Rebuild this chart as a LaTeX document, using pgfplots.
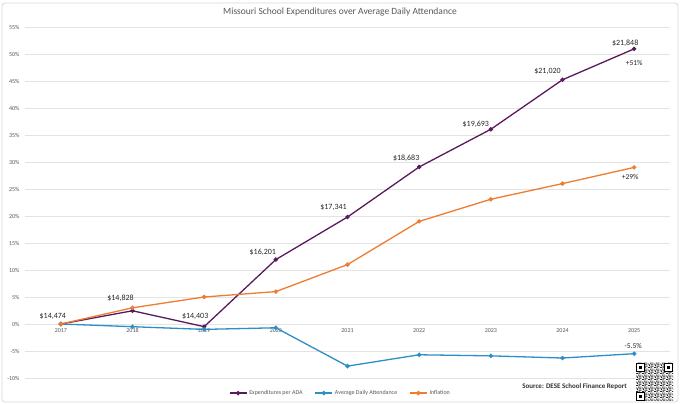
\documentclass[border=0pt]{standalone}
\usepackage{pgfplots}
\pgfplotsset{compat=1.18}
\usepackage{pgfplotstable}
\usepackage{fontspec}
\setmainfont{Carlito}
\usetikzlibrary{patterns}
\definecolor{expc}{HTML}{5A1A5E}
\definecolor{adac}{HTML}{2E8FC4}
\definecolor{infc}{HTML}{ED7D31}
\definecolor{txtgray}{HTML}{595959}
\definecolor{gridgray}{HTML}{E3E3E3}

\pgfdeclarepatternformonly{qrtex}{\pgfpointorigin}{\pgfpoint{6pt}{6pt}}{\pgfpoint{6pt}{6pt}}{
  \pgfpathrectangle{\pgfpoint{0pt}{0pt}}{\pgfpoint{2pt}{1pt}}
  \pgfpathrectangle{\pgfpoint{3pt}{0pt}}{\pgfpoint{1pt}{2pt}}
  \pgfpathrectangle{\pgfpoint{5pt}{1pt}}{\pgfpoint{1pt}{1pt}}
  \pgfpathrectangle{\pgfpoint{1pt}{2pt}}{\pgfpoint{1pt}{2pt}}
  \pgfpathrectangle{\pgfpoint{4pt}{3pt}}{\pgfpoint{2pt}{1pt}}
  \pgfpathrectangle{\pgfpoint{0pt}{4pt}}{\pgfpoint{1pt}{1pt}}
  \pgfpathrectangle{\pgfpoint{2pt}{5pt}}{\pgfpoint{2pt}{1pt}}
  \pgfpathrectangle{\pgfpoint{3pt}{3pt}}{\pgfpoint{1pt}{1pt}}
  \pgfpathrectangle{\pgfpoint{5pt}{5pt}}{\pgfpoint{1pt}{1pt}}
  \pgfusepath{fill}
}

\pgfplotstableread{
x y label dx dy
0 0 \$14,474 -8 8
1 2.45 \$14,828 -12 12
2 -0.49 \$14,403 -9 10
3 11.93 \$16,201 -13 7
4 19.81 \$17,341 -14 10
5 29.08 \$18,683 -13 9
6 36.06 \$19,693 -15 5
7 45.23 \$21,020 -15 8
8 50.95 \$21,848 -9 6
}\exptable

\pgfplotstableread{
x y
0 0
1 -0.5
2 -1.0
3 -0.7
4 -7.8
5 -5.7
6 -5.9
7 -6.3
8 -5.5
}\adatable

\pgfplotstableread{
x y
0 0
1 3.0
2 5.0
3 6.0
4 11.0
5 19.0
6 23.1
7 26.0
8 29.0
}\inftable

\begin{document}
\begin{tikzpicture}
\useasboundingbox (0,0) rectangle (680pt,404pt);
\fill[white] (0,0) rectangle (680pt,404pt);
\draw[black!15, rounded corners=3pt, line width=0.8pt] (2pt,2pt) rectangle (678pt,401pt);
\node[font=\fontsize{9.5}{11}\selectfont, text=txtgray] at (340pt,392pt) {Missouri School Expenditures over Average Daily Attendance};
\begin{axis}[
  at={(25pt,26pt)}, anchor=south west,
  scale only axis, width=645pt, height=351pt,
  xmin=-0.5, xmax=8.5, ymin=-10, ymax=55,
  axis x line*=middle, axis y line*=left,
  x axis line style={draw=gridgray, line width=0.6pt, -},
  y axis line style={draw=none},
  ytick={-10,-5,...,55},
  xtick={0,1,2,3,4,5,6,7,8},
  xticklabels={2017,2018,2019,2020,2021,2022,2023,2024,2025},
  major tick length=0pt,
  ymajorgrids, grid style={draw=gridgray, line width=0.6pt},
  /pgf/number format/assume math mode=true,
  yticklabel={\pgfmathprintnumber{\tick}\%},
  yticklabel style={font=\fontsize{6}{7}\selectfont, text=txtgray, xshift=-2pt},
  xticklabel style={font=\fontsize{6}{7}\selectfont, text=txtgray, yshift=-1pt},
  legend columns=3,
  legend style={at={(axis description cs:0.489,-0.043)}, anchor=center, draw=none, fill=none,
    font=\fontsize{6}{7}\selectfont, text=txtgray,
    /tikz/every even column/.append style={column sep=10pt}},
  legend cell align=left,
]
\addplot[expc, line width=1.3pt, mark=*, mark size=1.5pt,
  visualization depends on={\thisrow{dx} \as \dx},
  visualization depends on={\thisrow{dy} \as \dy},
  nodes near coords, point meta=explicit symbolic,
  nodes near coords style={anchor=center, xshift=\dx pt, yshift=\dy pt,
    font=\fontsize{8}{9}\selectfont, text=black!85}]
  table[x=x, y=y, meta=label] {\exptable};
\addlegendentry{Expenditures per ADA}
\addplot[adac, line width=1.3pt, mark=*, mark size=1.5pt] table[x=x, y=y] {\adatable};
\addlegendentry{Average Daily Attendance}
\addplot[infc, line width=1.3pt, mark=*, mark size=1.5pt] table[x=x, y=y] {\inftable};
\addlegendentry{Inflation}
\addplot[forget plot, draw=none, mark=none, nodes near coords, point meta=explicit symbolic,
  nodes near coords style={anchor=center, yshift=-14pt, font=\fontsize{7.5}{8}\selectfont, text=black!85}]
  coordinates {(8,50.95) [+51\%]};
\addplot[forget plot, draw=none, mark=none, nodes near coords, point meta=explicit symbolic,
  nodes near coords style={anchor=center, xshift=-4pt, yshift=-10pt, font=\fontsize{7.5}{8}\selectfont, text=black!85}]
  coordinates {(8,29.0) [+29\%]};
\addplot[forget plot, draw=none, mark=none, nodes near coords, point meta=explicit symbolic,
  nodes near coords style={anchor=center, xshift=-1pt, yshift=8pt, font=\fontsize{7.5}{8}\selectfont, text=black!85}]
  coordinates {(8,-5.5) [-5.5\%]};
\end{axis}
\node[font=\bfseries\fontsize{7}{8}\selectfont, text=black!80] at (574.5pt,17pt) {Source: DESE School Finance Report};
% QR code placeholder
\begin{scope}
\fill[white] (636pt,3pt) rectangle (673pt,41pt);
\fill[pattern=qrtex, pattern color=black!85] (636pt,3pt) rectangle (673pt,41pt);
\foreach \px/\py in {636/32, 664/32, 636/3}{
  \fill[black] (\px pt,\py pt) rectangle ++(9pt,9pt);
  \fill[white] (\px pt+1.3pt,\py pt+1.3pt) rectangle ++(6.4pt,6.4pt);
  \fill[black] (\px pt+2.6pt,\py pt+2.6pt) rectangle ++(3.8pt,3.8pt);
}
\end{scope}
\end{tikzpicture}
\end{document}
